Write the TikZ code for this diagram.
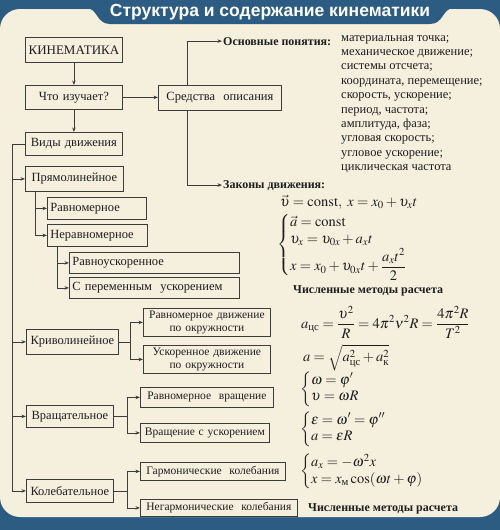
\documentclass[tikz,border=0pt]{standalone}
\usepackage{amsmath}
\usepackage{mathptmx}
\usepackage{fontspec}
\setmainfont{Liberation Serif}
\newfontfamily\titlefont{Liberation Sans}
\usetikzlibrary{arrows.meta,positioning}

\definecolor{frameblue}{RGB}{44,92,130}
\definecolor{paper}{RGB}{245,239,222}
\definecolor{linec}{RGB}{60,60,60}
\definecolor{inkc}{RGB}{30,30,30}

\begin{document}
\begin{tikzpicture}[x=1pt,y=-1pt,
    box/.style={draw=linec, line width=0.8pt, fill=paper, anchor=north west,
        inner xsep=3pt, inner ysep=0pt, align=center, text=inkc,
        font=\fontsize{12.5}{14}\selectfont},
    subbox/.style={box, font=\fontsize{11.5}{12.5}\selectfont},
    arr/.style={draw=linec, line width=0.8pt, -{Stealth[length=4.5pt,width=3.5pt]}},
    headline/.style={font=\bfseries\fontsize{12}{14}\selectfont, text=inkc, inner sep=1pt, anchor=base west},
    formula/.style={font=\fontsize{14.5}{16.5}\selectfont, text=inkc, anchor=west, inner sep=0pt}]
    \useasboundingbox (0,0) rectangle (500,530);

    % frame
    \fill[frameblue] (0,0) rectangle (500,530);
    \fill[paper, rounded corners=20] (0,9) rectangle (500,517);
    \fill[frameblue] (86,8) .. controls (98,8) and (96,24) .. (110,24) -- (430,24)
        .. controls (444,24) and (442,8) .. (454,8) -- cycle;
    \node[font=\titlefont\bfseries\fontsize{17.5}{19}\selectfont, text=white] (title) at (270,12) {Структура и содержание кинематики};

    % left tree
    \node[box, text width=91, minimum height=25, font=\fontsize{13}{15}\selectfont] (kin) at (25,37) {КИНЕМАТИКА};
    \node[box, text width=91, minimum height=24] (what) at (25,85) {Что изучает?};
    \node[box, text width=117, minimum height=25] (means) at (158,84.5) {Средства\ \ описания};
    \node[box, text width=91, minimum height=23] (types) at (25,132) {Виды движения};

    \node[box, text width=92, minimum height=25] (straight) at (25,166) {Прямолинейное};
    \node[box, text width=93, minimum height=22, align=left] (uniform) at (47,197) {Равномерное};
    \node[box, text width=94, minimum height=22, align=left] (nonuni) at (47,224) {Неравномерное};
    \node[box, text width=164, minimum height=21, align=left] (unacc) at (69,252) {Равноускоренное};
    \node[box, text width=164, minimum height=21, align=left] (varacc) at (69,277) {С переменным\ \ ускорением};

    \node[box, text width=86, minimum height=25] (curved) at (26,329) {Криволинейное};
    \node[subbox, text width=121, minimum height=28] (circU) at (143,308) {Равномерное движение\\по окружности};
    \node[subbox, text width=121, minimum height=28] (circA) at (143,345) {Ускоренное движение\\по окружности};

    \node[box, text width=81, minimum height=22] (rot) at (26,405) {Вращательное};
    \node[subbox, text width=127, minimum height=20] (rotU) at (140,387) {Равномерное\ \ вращение};
    \node[subbox, text width=123, minimum height=19] (rotA) at (140,423) {Вращение с ускорением};

    \node[box, text width=81, minimum height=23] (osc) at (26,479) {Колебательное};
    \node[subbox, text width=139, minimum height=18] (harm) at (140,462) {Гармонические\ \ колебания};
    \node[subbox, text width=151, minimum height=17] (anharm) at (140,499) {Негармонические\ \ колебания};

    \draw[arr] (kin) -- (what);
    \draw[arr] (what) -- (means);
    \draw[arr] (what) -- (types);
    \draw[arr] (types.west) -- ++(-13,0) |- (straight.west);
    \draw[arr] (types.west) -- ++(-13,0) |- (curved.west);
    \draw[arr] (types.west) -- ++(-13,0) |- (rot.west);
    \draw[arr] (types.west) -- ++(-13,0) |- (osc.west);
    \draw[arr] ([xshift=10pt]straight.south west) |- (uniform.west);
    \draw[arr] ([xshift=10pt]straight.south west) |- (nonuni.west);
    \draw[arr] ([xshift=10pt]nonuni.south west) |- (unacc.west);
    \draw[arr] ([xshift=10pt]nonuni.south west) |- (varacc.west);
    \draw[arr] (curved.east) -- ++(12,0) |- (circU.west);
    \draw[arr] (curved.east) -- ++(12,0) |- (circA.west);
    \draw[arr] (rot.east) -- ++(14,0) |- (rotU.west);
    \draw[arr] (rot.east) -- ++(14,0) |- (rotA.west);
    \draw[arr] (osc.east) -- ++(14,0) |- (harm.west);
    \draw[arr] (osc.east) -- ++(14,0) |- (anharm.west);

    % right column
    \node[headline] (basics) at (222,45) {Основные понятия:};
    \node[anchor=north west, align=left, inner sep=0pt, text=inkc,
        font=\fontsize{12.5}{14.4}\selectfont] (notions) at (341,35)
        {материальная точка;\\механическое движение;\\системы отсчета;\\координата, перемещение;\\скорость, ускорение;\\период, частота;\\амплитуда, фаза;\\угловая скорость;\\угловое ускорение;\\циклическая частота};
    \node[headline] (laws) at (222,188) {Законы движения:};
    \draw[arr] ([xshift=29pt]means.north west) |- (basics.west);
    \draw[arr] ([xshift=29pt]means.south west) |- (laws.west);

    \node[formula] (eqA) at (280,202) {$\vec{\upsilon} = \mathrm{const},\ x = x_0 + \upsilon_x t$};
    \node[formula] (eqB) at (277,245) {\renewcommand{\arraystretch}{1.05}$\left\{\begin{array}{@{}l@{}}
        \vec{a} = \mathrm{const}\\
        \upsilon_x = \upsilon_{0x} + a_x t\\
        x = x_0 + \upsilon_{0x}t + \smash[b]{\dfrac{a_x t^2}{2}}\end{array}\right.$};
    \node[headline] (numA) at (292,293) {Численные методы расчета};

    \node[formula] (eqC) at (301,322) {$a_{\text{цс}} = \dfrac{\upsilon^2}{R} = 4\pi^2\nu^2 R = \dfrac{4\pi^2 R}{T^2}$};
    \node[formula] (eqD) at (303,358) {$a = \sqrt{a_{\text{цс}}^2 + a_{\text{к}}^2}$};
    \node[formula] (eqE) at (300,389) {$\left\{\begin{array}{@{}l@{}}\omega = \varphi'\\ \upsilon = \omega R\end{array}\right.$};
    \node[formula] (eqF) at (300,429) {$\left\{\begin{array}{@{}l@{}}\varepsilon = \omega' = \varphi''\\ a = \varepsilon R\end{array}\right.$};
    \node[formula] (eqG) at (300,471) {$\left\{\begin{array}{@{}l@{}}a_x = -\omega^2 x\\ x = x_{\text{м}}\cos(\omega t + \varphi)\end{array}\right.$};
    \node[headline] (numB) at (307,511) {Численные методы расчета};
\end{tikzpicture}
\end{document}
